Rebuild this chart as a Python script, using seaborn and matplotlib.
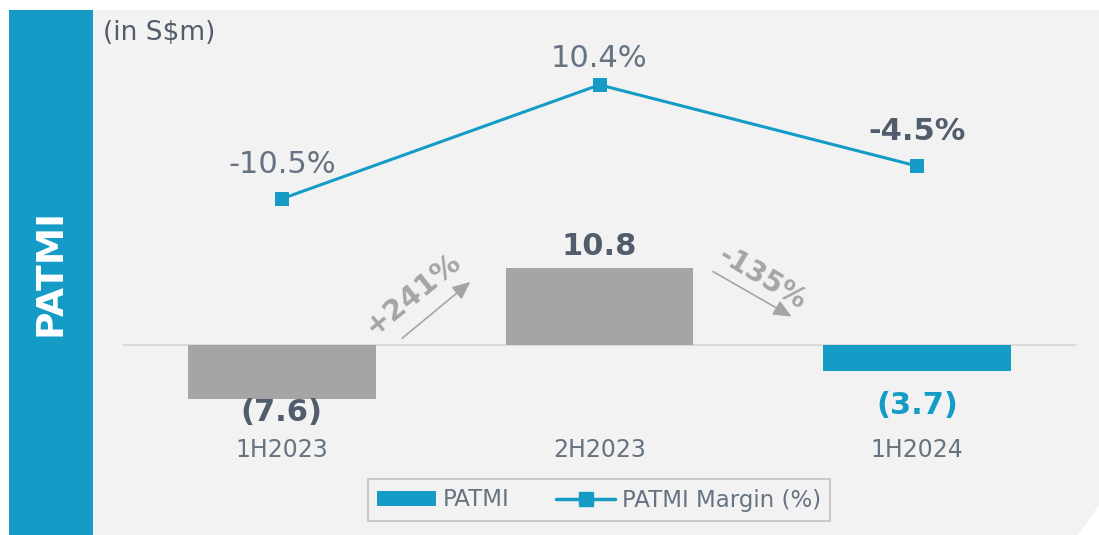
import matplotlib
matplotlib.use("Agg")
import matplotlib.pyplot as plt
from matplotlib.patches import Polygon, Rectangle, Patch
from matplotlib.lines import Line2D
import numpy as np
import pandas as pd
import seaborn as sns

# data
periods = ["1H2023", "2H2023", "1H2024"]
patmi = [-7.6, 10.8, -3.7]
margin = [-10.5, 10.4, -4.5]
growth_labels = ["+241%", "-135%"]

BLUE = "#149cc6"
GRAY_BAR = "#a5a5a5"
DARK = "#515d6c"
MID = "#667382"
PANEL = "#f2f2f2"

sns.set_theme(style="white")
plt.rcParams["font.family"] = ["DejaVu Sans"]

W, H = 1099, 535
fig = plt.figure(figsize=(W / 100, H / 100), dpi=100)
fig.patch.set_facecolor("white")


def fx(px):
    return px / W


def fy(py):
    return 1 - py / H


# background panel with clipped corner and side band
panel = Polygon([(fx(93), fy(10)), (fx(1099), fy(10)), (fx(1099), fy(505)),
                 (fx(1078), fy(535)), (fx(93), fy(535))],
                closed=True, transform=fig.transFigure, facecolor=PANEL,
                edgecolor="none", zorder=-2)
fig.patches.append(panel)
band = Rectangle((fx(9), fy(535)), fx(93) - fx(9), fy(10) - fy(535),
                 transform=fig.transFigure, facecolor=BLUE, edgecolor="none", zorder=-2)
fig.patches.append(band)
fig.text(fx(51), fy(272), "PATMI", rotation=90, color="white", fontsize=27,
         fontweight="bold", ha="center", va="center")
fig.text(fx(103), fy(33), "(in S$m)", color=DARK, fontsize=19, ha="left", va="center")

ax = fig.add_axes([fx(123), fy(432), fx(1076) - fx(123), fy(20) - fy(432)])
ax.patch.set_alpha(0)

df = pd.DataFrame({"period": periods, "patmi": patmi, "margin": margin})
sns.barplot(data=df, x="period", y="patmi", hue="period", dodge=False,
            palette=[GRAY_BAR, GRAY_BAR, BLUE], width=0.59, legend=False,
            saturation=1, linewidth=0, ax=ax, zorder=2)
ax.axhline(0, color="#d9d9d9", lw=1.5, zorder=1)
ax.set_xlim(-0.5, 2.5)
ax.set_ylim(-12.2, 45.6)
ax.set_xlabel("")
ax.set_ylabel("")
ax.set_yticks([])
ax.tick_params(axis="x", length=0, pad=4, labelsize=17, labelcolor=MID)
for s in ax.spines.values():
    s.set_visible(False)

# bar value labels
bar_colors = [DARK, DARK, BLUE]
bar_offsets = [-13, 22, -34]
for i, v in enumerate(patmi):
    txt = f"{v:.1f}" if v >= 0 else f"({abs(v):.1f})"
    ax.annotate(txt, (i, v), xytext=(0, bar_offsets[i] * 0.72), textcoords="offset points",
                ha="center", va="center", fontsize=22, fontweight="bold",
                color=bar_colors[i])

# growth arrows between bars
ax.annotate("", xy=(0.60, 9.1), xytext=(0.372, 0.7),
            arrowprops=dict(arrowstyle="-|>,head_length=0.9,head_width=0.4",
                            color=GRAY_BAR, lw=1.2))
ax.text(0.413, 7.2, growth_labels[0], rotation=39, rotation_mode="anchor",
        ha="center", va="center", fontsize=21, fontweight="bold", color=GRAY_BAR)
ax.annotate("", xy=(1.612, 3.8), xytext=(1.35, 10.5),
            arrowprops=dict(arrowstyle="-|>,head_length=0.9,head_width=0.4",
                            color=GRAY_BAR, lw=1.2))
ax.text(1.512, 9.4, growth_labels[1], rotation=-31, rotation_mode="anchor",
        ha="center", va="center", fontsize=20, fontweight="bold", color=GRAY_BAR)

# margin line on twin axis
ax2 = ax.twinx()
sns.lineplot(x=np.arange(len(periods)), y=margin, ax=ax2, color=BLUE, lw=2.2,
             marker="s", markersize=10, markeredgewidth=0, zorder=3)
ax2.set_ylim(-53.3, 22.3)
ax2.set_yticks([])
for s in ax2.spines.values():
    s.set_visible(False)

m_weights = ["normal", "normal", "bold"]
m_colors = [MID, MID, DARK]
m_offsets = [34, 26, 35]
for i, v in enumerate(margin):
    ax2.annotate(f"{v:.1f}%", (i, v), xytext=(0, m_offsets[i] * 0.72),
                 textcoords="offset points", ha="center", va="center",
                 fontsize=22, fontweight=m_weights[i], color=m_colors[i])

handles = [Patch(facecolor=BLUE, edgecolor="none"),
           Line2D([0], [0], color=BLUE, lw=2.5, marker="s", markersize=10)]
leg = fig.legend(handles, ["PATMI", "PATMI Margin (%)"], loc="center",
                 bbox_to_anchor=(fx(599), fy(500)), ncol=2, frameon=True,
                 fontsize=16.5, fancybox=False, handlelength=2.6, handleheight=0.6,
                 columnspacing=2.0, borderpad=0.4, handletextpad=0.3,
                 borderaxespad=0)
leg.get_frame().set_edgecolor("#bfbfbf")
leg.get_frame().set_facecolor(PANEL)
leg.get_frame().set_linewidth(1.5)
for t in leg.get_texts():
    t.set_color(MID)

fig.savefig("out.png", dpi=100)
